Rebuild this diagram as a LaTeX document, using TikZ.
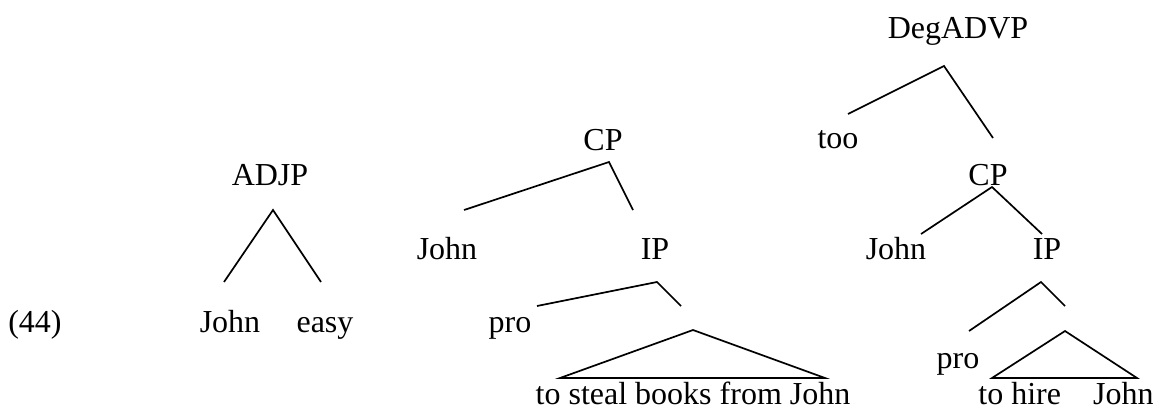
\documentclass[tikz,border=0pt]{standalone}
\usepackage{fontspec}
\setmainfont{Liberation Serif}
\begin{document}
\begin{tikzpicture}[x=0.5pt,y=-0.5pt,
  lbl/.style={anchor=base,inner sep=0pt,font=\fontsize{16pt}{19pt}\selectfont},
  branch/.style={line width=0.85pt,line join=miter}]
\useasboundingbox (0,0) rectangle (1154,409);

% example number
\node[lbl] (ex) at (35,332) {(44)};

% ADJP tree
\node[lbl] (adjp) at (270,185) {ADJP};
\node[lbl] (adjJohn) at (230,332) {John};
\node[lbl] (easy) at (325,332) {easy};
\coordinate (adjTop) at (273,210);
\coordinate (adjL) at (224,282);
\coordinate (adjR) at (321,282);
\draw[branch] (adjL) -- (adjTop) -- (adjR);

% CP tree
\node[lbl] (cpA) at (603,150) {CP};
\node[lbl] (johnA) at (447,259) {John};
\node[lbl] (ipA) at (655,259) {IP};
\node[lbl] (proA) at (510,332) {pro};
\node[lbl] (vpA) at (693,404) {to steal books from John};
\coordinate (cpAtop) at (609,162);
\coordinate (cpAL) at (464,210);
\coordinate (cpAR) at (633,210);
\coordinate (ipAtop) at (657,282);
\coordinate (ipAL) at (537,306);
\coordinate (ipAR) at (681,306);
\coordinate (triAtop) at (693,330);
\coordinate (triAL) at (560,378);
\coordinate (triAR) at (825,378);
\draw[branch] (cpAL) -- (cpAtop) -- (cpAR);
\draw[branch] (ipAL) -- (ipAtop) -- (ipAR);
\draw[branch] (triAL) -- (triAtop) -- (triAR) -- cycle;

% DegADVP tree
\node[lbl] (deg) at (958,38) {DegADVP};
\node[lbl] (too) at (838,148) {too};
\node[lbl] (cpB) at (988,185) {CP};
\node[lbl] (johnB) at (896,259) {John};
\node[lbl] (ipB) at (1047,259) {IP};
\node[lbl] (proB) at (958,368) {pro};
\node[lbl,anchor=base west] (vpB) at (978,404) {to hire\hspace{16pt}John};
\coordinate (degTop) at (944,66);
\coordinate (degL) at (848,114);
\coordinate (degR) at (993,138);
\coordinate (cpBtop) at (992,187);
\coordinate (cpBL) at (921,234);
\coordinate (cpBR) at (1042,234);
\coordinate (ipBtop) at (1041,282);
\coordinate (ipBL) at (969,331);
\coordinate (ipBR) at (1065,306);
\coordinate (triBtop) at (1065,331);
\coordinate (triBL) at (992,378);
\coordinate (triBR) at (1137,378);
\draw[branch] (degL) -- (degTop) -- (degR);
\draw[branch] (cpBL) -- (cpBtop) -- (cpBR);
\draw[branch] (ipBL) -- (ipBtop) -- (ipBR);
\draw[branch] (triBL) -- (triBtop) -- (triBR) -- cycle;
\end{tikzpicture}
\end{document}
